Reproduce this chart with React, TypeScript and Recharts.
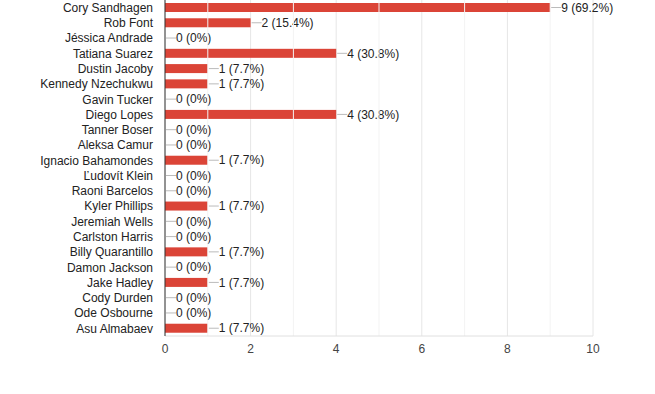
import { BarChart, Bar, XAxis, YAxis, CartesianGrid, ReferenceLine } from "recharts";

const fighters = [
  "Cory Sandhagen", "Rob Font", "Jéssica Andrade", "Tatiana Suarez", "Dustin Jacoby",
  "Kennedy Nzechukwu", "Gavin Tucker", "Diego Lopes", "Tanner Boser", "Aleksa Camur",
  "Ignacio Bahamondes", "Ľudovít Klein", "Raoni Barcelos", "Kyler Phillips", "Jeremiah Wells",
  "Carlston Harris", "Billy Quarantillo", "Damon Jackson", "Jake Hadley", "Cody Durden",
  "Ode Osbourne", "Asu Almabaev",
];
const votes = [9, 2, 0, 4, 1, 1, 0, 4, 0, 0, 1, 0, 0, 1, 0, 0, 1, 0, 1, 0, 0, 1];
const percents = [
  "69.2%", "15.4%", "0%", "30.8%", "7.7%", "7.7%", "0%", "30.8%", "0%", "0%", "7.7%",
  "0%", "0%", "7.7%", "0%", "0%", "7.7%", "0%", "7.7%", "0%", "0%", "7.7%",
];
const xTicks = [0, 2, 4, 6, 8, 10];
const minorTicks = [1, 3, 5, 7, 9];

const data = fighters.map((name, i) => ({ name, votes: votes[i], pct: percents[i] }));

const FONT = "Arial, 'Liberation Sans', sans-serif";

// bar + leader line + "n (pct)" label, drawn for every row incl. zero ones
function BarWithLabel(props: any) {
  const { x, y, width, height, payload, fill } = props;
  const w = Math.max(0, width || 0);
  const end = x + w;
  const cy = y + height / 2;
  return (
    <g>
      {w > 0 && <rect x={x} y={y} width={w} height={height} fill={fill} />}
      <line x1={end + 1} x2={end + 11} y1={cy} y2={cy} stroke="#bbb" strokeWidth={1} />
      <text x={end + 11} y={cy} dy="0.35em" fontSize={12} fontFamily={FONT} fill="#222">
        {`${payload.votes} (${payload.pct})`}
      </text>
    </g>
  );
}

export default function App() {
  return (
    <div style={{ position: "absolute", left: 0, top: 0, background: "#fff" }}>
      <BarChart
        width={655}
        height={394}
        data={data}
        layout="vertical"
        margin={{ top: 0, right: 62, bottom: 28, left: 0 }}
        barCategoryGap={0}
      >
        <CartesianGrid horizontal={false} stroke="#e6e6e6" />
        {minorTicks.map((t) => (
          <ReferenceLine key={t} x={t} stroke="#f3f3f3" />
        ))}
        <XAxis
          type="number"
          domain={[0, 10]}
          ticks={xTicks}
          tickLine={false}
          axisLine={{ stroke: "#e0e0e0" }}
          tick={{ fontSize: 12, fontFamily: FONT, fill: "#444" }}
        />
        <YAxis
          type="category"
          dataKey="name"
          width={165}
          interval={0}
          tickLine={false}
          tickMargin={6}
          axisLine={{ stroke: "#333" }}
          tick={{ fontSize: 12, fontFamily: FONT, fill: "#222" }}
        />
        <Bar dataKey="votes" fill="#db4437" barSize={9} isAnimationActive={false} shape={BarWithLabel} />
      </BarChart>
    </div>
  );
}
